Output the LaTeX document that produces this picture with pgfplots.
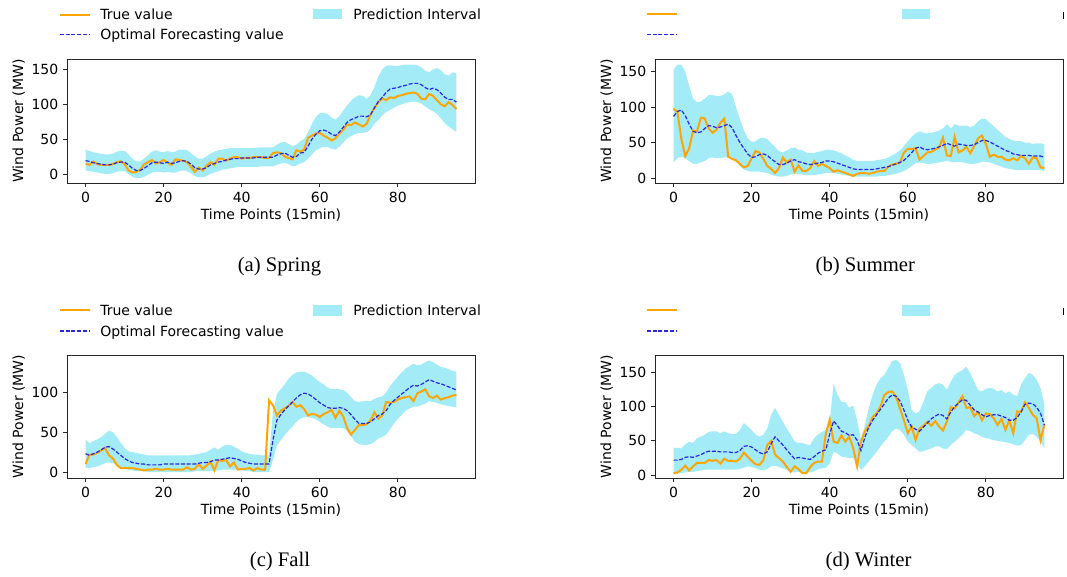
\documentclass[border=0pt]{standalone}
\usepackage{fontspec}
\setmainfont{Liberation Serif}
\newfontfamily\dv{DejaVu Sans}
\usepackage{pgfplots}
\usepackage{pgfplotstable}
\pgfplotsset{compat=1.18}
\definecolor{trueC}{HTML}{FFA500}
\definecolor{fcC}{HTML}{2828E0}
\definecolor{bandC}{HTML}{A3EBF7}

\pgfplotstableread{
t tr fc lo up
0 15 19 5 35
1 13 18 4 33
2 18 16 3 31
3 14 15 2 30
4 13 14 1 29
5 13 13 0 28
6 13 13 0 28
7 14 14 1 29
8 17 16 3 32
9 18 17 4 33
10 14 17 4 33
11 5 13 0 28
12 2 8 -4 22
13 3 5 -6 18
14 6 5 -6 18
15 14 8 -4 22
16 17 12 -1 27
17 20 16 2 32
18 15 17 3 34
19 17 16 3 32
20 20 15 2 31
21 16 17 3 33
22 13 15 2 31
23 21 16 2 32
24 20 18 4 35
25 19 19 5 35
26 17 18 4 34
27 10 14 1 30
28 3 9 -3 25
29 9 7 -5 22
30 5 7 -5 22
31 12 9 -3 25
32 17 13 0 29
33 13 15 2 32
34 22 17 4 34
35 22 18 6 35
36 19 20 7 36
37 22 21 8 37
38 24 22 9 37
39 24 22 10 37
40 22 23 10 37
41 23 23 10 37
42 23 23 10 37
43 24 23 10 37
44 24 24 10 38
45 24 24 11 38
46 23 24 11 38
47 23 24 11 38
48 30 24 11 38
49 31 27 13 42
50 30 29 15 45
51 25 30 16 46
52 23 27 14 43
53 21 24 11 40
54 34 25 12 42
55 32 30 15 47
56 35 31 17 50
57 52 40 22 60
58 55 50 28 72
59 58 57 34 82
60 59 62 37 87
61 55 63 39 88
62 52 61 39 86
63 48 57 36 81
64 51 55 35 78
65 58 60 39 83
66 63 67 45 91
67 71 74 51 98
68 70 78 54 105
69 74 80 57 110
70 71 83 59 113
71 68 83 59 112
72 72 82 60 108
73 85 85 64 113
74 95 95 72 125
75 103 104 78 140
76 108 110 84 150
77 106 117 89 155
78 110 122 92 156
79 109 123 95 155
80 112 124 98 155
81 113 126 100 156
82 115 127 102 157
83 116 129 103 157
84 117 130 104 157
85 115 130 103 156
86 108 128 101 153
87 107 124 97 148
88 115 121 93 146
89 112 123 90 150
90 106 121 86 152
91 100 116 80 149
92 97 110 73 143
93 103 107 68 141
94 99 107 64 146
95 93 103 60 144
}\spring

\pgfplotstableread{
t tr fc lo up
0 98 87 22 153
1 93 94 28 160
2 55 96 30 160
3 31 88 28 150
4 42 76 24 130
5 67 66 20 112
6 66 64 20 107
7 85 65 22 108
8 84 70 24 112
9 70 74 28 117
10 64 73 29 117
11 68 71 28 116
12 78 72 28 116
13 84 74 29 118
14 30 76 30 122
15 27 71 29 118
16 25 60 24 100
17 20 50 17 83
18 15 42 12 68
19 17 34 10 56
20 28 29 9 51
21 38 30 9 52
22 36 33 9 56
23 27 34 8 57
24 17 32 7 55
25 13 27 5 49
26 7 23 3 44
27 14 19 2 38
28 29 19 2 36
29 22 21 3 39
30 26 24 5 42
31 9 26 6 43
32 18 23 5 40
33 10 22 5 39
34 10 20 4 36
35 14 19 4 35
36 24 20 4 35
37 17 21 5 37
38 20 22 6 38
39 17 24 7 40
40 14 24 7 40
41 9 23 7 39
42 11 21 6 37
43 9 19 5 35
44 7 17 4 32
45 5 15 3 29
46 3 13 2 26
47 6 12 2 24
48 7 12 2 24
49 7 12 2 24
50 6 12 2 24
51 7 12 2 24
52 9 13 2 25
53 10 14 3 26
54 10 15 3 27
55 16 16 4 29
56 19 18 5 32
57 20 20 6 35
58 22 22 8 39
59 36 25 10 45
60 41 30 13 52
61 41 36 17 58
62 42 42 21 63
63 26 44 22 66
64 31 41 21 64
65 36 40 20 63
66 37 41 20 64
67 40 42 21 65
68 43 44 22 67
69 57 46 23 70
70 32 49 24 76
71 31 47 23 70
72 58 45 22 76
73 36 48 23 74
74 39 47 22 74
75 44 46 21 74
76 35 46 20 72
77 45 47 20 74
78 56 50 21 80
79 60 53 23 84
80 48 53 23 83
81 30 51 22 78
82 33 48 20 73
83 30 45 18 68
84 30 42 16 63
85 26 39 14 58
86 25 37 13 55
87 28 34 12 53
88 25 33 11 52
89 31 32 11 52
90 28 32 11 50
91 20 32 11 50
92 29 31 11 48
93 28 31 11 49
94 15 31 11 49
95 14 29 10 48
}\summer

\pgfplotstableread{
t tr fc lo up
0 10 23 5 41
1 22 21 5 36
2 22 23 6 39
3 24 25 7 41
4 27 28 9 44
5 30 31 11 48
6 21 32 12 52
7 17 29 11 50
8 9 25 9 44
9 5 21 6 37
10 5 17 4 30
11 5 14 3 26
12 5 12 2 25
13 4 11 1 24
14 3 10 1 23
15 2 10 1 22
16 3 9 0 21
17 3 9 0 21
18 4 9 0 21
19 3 9 0 21
20 3 10 0 21
21 4 10 0 21
22 3 10 0 21
23 3 10 0 21
24 3 10 0 21
25 3 10 0 21
26 6 10 0 21
27 3 10 0 21
28 4 10 1 22
29 10 11 1 23
30 4 12 1 24
31 8 12 1 25
32 13 13 1 28
33 2 15 2 31
34 15 15 2 28
35 14 16 3 32
36 15 17 3 34
37 7 18 3 34
38 12 17 3 32
39 3 16 3 29
40 4 14 2 26
41 4 12 1 24
42 5 11 1 23
43 2 10 0 22
44 5 10 0 22
45 3 10 0 21
46 3 10 0 21
47 90 10 0 21
48 84 40 15 75
49 71 65 33 98
50 77 72 40 104
51 80 78 46 110
52 83 83 52 117
53 88 88 57 122
54 82 93 63 125
55 84 97 67 126
56 79 99 69 126
57 71 98 69 124
58 73 95 68 121
59 72 91 66 117
60 69 87 63 113
61 73 84 60 110
62 75 81 57 106
63 78 80 55 104
64 68 80 55 104
65 77 81 55 104
66 70 80 55 103
67 55 77 52 100
68 47 72 45 94
69 53 66 38 89
70 59 61 35 88
71 59 61 34 89
72 60 61 34 89
73 65 63 35 89
74 75 67 38 92
75 67 71 42 94
76 71 73 44 95
77 88 77 47 100
78 87 85 54 108
79 88 90 61 114
80 91 94 67 120
81 93 98 72 125
82 94 102 77 130
83 95 106 80 133
84 89 109 82 136
85 99 108 82 134
86 101 110 84 135
87 104 113 86 138
88 95 116 89 140
89 93 114 88 138
90 96 112 87 135
91 91 111 85 132
92 93 109 84 131
93 94 107 83 129
94 96 105 82 127
95 97 103 81 126
}\fall

\pgfplotstableread{
t tr fc lo up
0 3 22 2 40
1 4 22 3 40
2 8 23 3 39
3 14 26 4 45
4 7 27 5 49
5 13 26 5 47
6 18 28 6 54
7 18 30 7 56
8 18 33 8 59
9 22 35 8 63
10 21 35 8 64
11 22 35 8 64
12 17 34 8 61
13 24 34 8 64
14 21 34 8 61
15 21 33 8 60
16 20 33 8 60
17 24 36 9 66
18 33 42 11 76
19 27 43 13 71
20 21 41 12 66
21 16 37 10 59
22 15 33 8 56
23 22 31 7 59
24 44 34 9 68
25 50 46 13 88
26 30 56 14 98
27 25 50 12 88
28 20 44 10 78
29 12 37 8 68
30 5 30 5 59
31 13 24 4 49
32 9 26 5 47
33 3 25 4 47
34 3 24 4 45
35 12 23 4 44
36 18 27 6 54
37 20 32 9 59
38 20 35 10 63
39 60 37 11 66
40 81 60 17 78
41 49 79 34 133
42 47 72 32 117
43 58 64 27 107
44 49 62 26 106
45 56 58 25 98
46 40 59 25 102
47 13 51 17 80
48 49 36 8 52
49 64 55 13 73
50 72 70 20 98
51 85 80 27 117
52 90 88 34 132
53 100 96 42 141
54 117 104 49 146
55 121 112 56 156
56 122 117 64 166
57 114 115 68 168
58 97 108 66 163
59 80 95 59 146
60 61 80 49 124
61 71 70 44 95
62 51 67 39 90
63 68 64 34 93
64 72 70 35 107
65 78 76 37 122
66 72 82 39 127
67 79 86 42 132
68 71 89 42 134
69 65 87 39 132
70 78 82 38 124
71 99 92 44 136
72 97 100 49 146
73 106 105 54 150
74 115 110 59 153
75 98 109 66 158
76 99 102 64 149
77 86 95 61 136
78 92 92 59 124
79 80 88 56 122
80 90 85 54 126
81 89 87 53 127
82 83 88 51 126
83 73 88 50 122
84 82 86 49 124
85 66 84 48 119
86 80 80 47 122
87 61 80 45 117
88 93 84 43 115
89 92 92 44 132
90 106 103 51 141
91 98 105 59 149
92 88 104 60 146
93 83 99 56 139
94 51 90 49 127
95 74 73 39 102
}\winter

% band polygons: rows in ascending order followed by the same rows in descending order
\pgfplotstablesort[sort key=t, sort cmp=float <]{\springband}{\spring}
\pgfplotstablesort[sort key=t, sort cmp=float >]{\springrev}{\spring}
\pgfplotstablevertcat{\springband}{\springrev}
\pgfplotstablesort[sort key=t, sort cmp=float <]{\summerband}{\summer}
\pgfplotstablesort[sort key=t, sort cmp=float >]{\summerrev}{\summer}
\pgfplotstablevertcat{\summerband}{\summerrev}
\pgfplotstablesort[sort key=t, sort cmp=float <]{\fallband}{\fall}
\pgfplotstablesort[sort key=t, sort cmp=float >]{\fallrev}{\fall}
\pgfplotstablevertcat{\fallband}{\fallrev}
\pgfplotstablesort[sort key=t, sort cmp=float <]{\winterband}{\winter}
\pgfplotstablesort[sort key=t, sort cmp=float >]{\winterrev}{\winter}
\pgfplotstablevertcat{\winterband}{\winterrev}

\pgfplotsset{
  season/.style={
    scale only axis, width=306pt,
    xmin=-4.75, xmax=99.75,
    xtick={0,20,40,60,80},
    axis line style={line width=0.6pt, black!85},
    every tick/.style={black!85, line width=0.6pt},
    tick align=outside, major tick length=3pt,
    tick pos=left,
    ticklabel style={font=\dv\fontsize{10.5}{12}\selectfont},
    /pgf/number format/assume math mode=true,
    label style={font=\dv\fontsize{10.5}{12}\selectfont},
    xlabel={Time Points (15min)},
    ylabel={Wind Power (MW)},
    xlabel style={yshift=2pt},
    ylabel style={yshift=-2pt},
  },
}

\newcommand\seasonplots[2]{%
  \addplot[fill=bandC, draw=none, forget plot] table[x=t, y expr={\coordindex<96 ? \thisrow{up} : \thisrow{lo}}]{#2};
  \addplot[trueC, line width=1.5pt] table[x=t,y=tr]{#1};
  \addplot[fcC, line width=0.9pt, dash pattern=on 3pt off 1.3pt] table[x=t,y=fc]{#1};
}

\begin{document}
\begin{tikzpicture}
\useasboundingbox (0,0) rectangle (800.25pt,432.75pt);

% (a) Spring
\begin{axis}[season, at={(50.25pt,295.5pt)}, anchor=south west, height=93pt,
  ymin=-13, ymax=165, ytick={0,50,100,150}]
\seasonplots{\spring}{\springband}
\end{axis}
% (b) Summer
\begin{axis}[season, at={(491.25pt,295.5pt)}, anchor=south west, height=93pt,
  ymin=-7, ymax=168, ytick={0,50,100,150}]
\seasonplots{\summer}{\summerband}
\end{axis}
% (c) Fall
\begin{axis}[season, at={(50.25pt,74.25pt)}, anchor=south west, height=92.25pt,
  ymin=-7.5, ymax=147, ytick={0,50,100}]
\seasonplots{\fall}{\fallband}
\end{axis}
% (d) Winter
\begin{axis}[season, at={(491.25pt,74.25pt)}, anchor=south west, height=92.25pt,
  ymin=-4, ymax=175, ytick={0,50,100,150}]
\seasonplots{\winter}{\winterband}
\end{axis}

% legends (top row)
\draw[trueC, line width=1.5pt] (45pt,421.7pt) -- (67.5pt,421.7pt);
\draw[fcC, line width=0.9pt, dash pattern=on 3pt off 1.3pt] (45pt,406.7pt) -- (67.5pt,406.7pt);
\fill[bandC] (234.75pt,418.3pt) rectangle (256.5pt,425.8pt);
\node[anchor=base west, inner sep=0pt, font=\dv\fontsize{10.5}{12}\selectfont] at (75pt,417.75pt) {True value};
\node[anchor=base west, inner sep=0pt, font=\dv\fontsize{10.5}{12}\selectfont] at (75pt,402.75pt) {Optimal Forecasting value};
\node[anchor=base west, inner sep=0pt, font=\dv\fontsize{10.5}{12}\selectfont] at (264.75pt,417.75pt) {Prediction Interval};

\draw[trueC, line width=1.5pt] (485.25pt,422.25pt) -- (507.75pt,422.25pt);
\draw[fcC, line width=0.9pt, dash pattern=on 3pt off 1.3pt] (485.25pt,406.7pt) -- (507.75pt,406.7pt);
\fill[bandC] (676.5pt,418.3pt) rectangle (697.5pt,425.8pt);
\draw[black, line width=0.7pt] (797.25pt,418.5pt) -- (797.25pt,423.75pt);

% legends (bottom row)
\draw[trueC, line width=1.5pt] (45pt,200.25pt) -- (67.5pt,200.25pt);
\draw[fcC, line width=0.9pt, dash pattern=on 3pt off 1.3pt] (45pt,184.5pt) -- (67.5pt,184.5pt);
\fill[bandC] (234.75pt,196pt) rectangle (256.5pt,204pt);
\node[anchor=base west, inner sep=0pt, font=\dv\fontsize{10.5}{12}\selectfont] at (75pt,196pt) {True value};
\node[anchor=base west, inner sep=0pt, font=\dv\fontsize{10.5}{12}\selectfont] at (75pt,180.5pt) {Optimal Forecasting value};
\node[anchor=base west, inner sep=0pt, font=\dv\fontsize{10.5}{12}\selectfont] at (264.75pt,196pt) {Prediction Interval};

\draw[trueC, line width=1.5pt] (485.25pt,200.25pt) -- (507.75pt,200.25pt);
\draw[fcC, line width=0.9pt, dash pattern=on 3pt off 1.3pt] (485.25pt,184.5pt) -- (507.75pt,184.5pt);
\fill[bandC] (676.5pt,196pt) rectangle (697.5pt,204pt);
\draw[black, line width=0.7pt] (797.25pt,196.5pt) -- (797.25pt,201.75pt);

% captions
\node[anchor=base, inner sep=0pt, font=\fontsize{15.5}{18}\selectfont] at (209.6pt,229.1pt) {(a) Spring};
\node[anchor=base, inner sep=0pt, font=\fontsize{15.5}{18}\selectfont] at (649pt,229.1pt) {(b) Summer};
\node[anchor=base, inner sep=0pt, font=\fontsize{15.5}{18}\selectfont] at (210pt,7.9pt) {(c) Fall};
\node[anchor=base, inner sep=0pt, font=\fontsize{15.5}{18}\selectfont] at (651.4pt,7.9pt) {(d) Winter};
\end{tikzpicture}
\end{document}
